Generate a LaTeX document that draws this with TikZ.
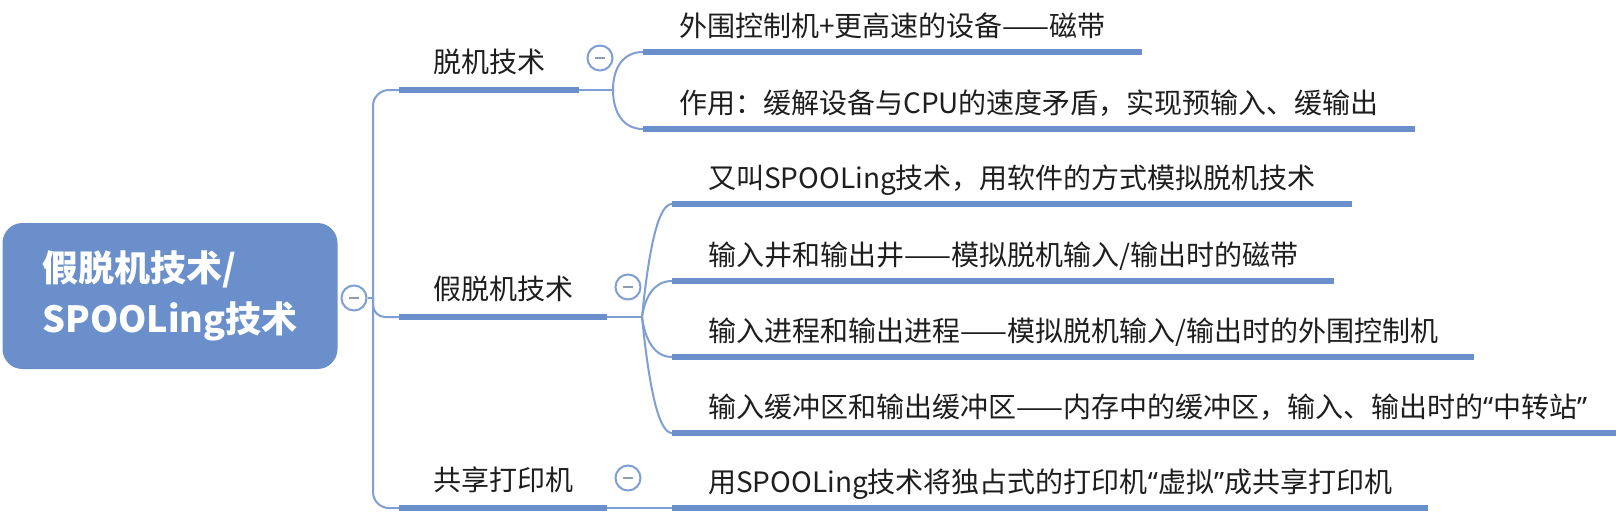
\documentclass[tikz,border=0pt]{standalone}
\usepackage{fontspec}
\setmainfont{Noto Sans CJK SC}
\newfontfamily\qfont{Noto Sans}
\newcommand{\oq}{{\qfont “}}
\newcommand{\cq}{{\qfont ”}}
\usetikzlibrary{calc}
\definecolor{mmblue}{HTML}{6A8FCB}
\definecolor{mmline}{HTML}{7F9FD4}
\definecolor{mmtext}{HTML}{1E1E1E}
\definecolor{mmminus}{HTML}{8E9CB5}
\begin{document}
\begin{tikzpicture}[x=1pt, y=-1pt,
  root/.style={rectangle, rounded corners=20pt, fill=mmblue, draw=none,
    minimum width=335pt, minimum height=146pt, text=white, align=left,
    font=\fontsize{36}{51}\selectfont\bfseries},
  l1/.style={anchor=south west, inner xsep=34pt, inner ysep=0pt, minimum height=49pt,
    text height=21pt, text depth=6pt, text=mmtext, font=\fontsize{28}{30}\selectfont},
  l2/.style={anchor=south west, inner xsep=36pt, inner ysep=0pt, minimum height=46pt,
    text height=21pt, text depth=6pt, text=mmtext, font=\fontsize{28}{30}\selectfont},
  uline/.style={line width=6pt, mmblue},
  conn/.style={line width=2pt, mmline},
  fold/.style={circle, draw=mmline, line width=2pt, fill=white, minimum size=25pt, inner sep=0pt,
    path picture={\draw[mmminus, line width=2pt]
      ([xshift=-5pt]path picture bounding box.center) -- ([xshift=5pt]path picture bounding box.center);}}
]
\useasboundingbox (0,0) rectangle (1616,520);
\fill[white] (0,0) rectangle (1616,520);

% root
\node[root] (r) at (170,296) {假脱机技术/\\SPOOLing技术};
\node[fold] (rf) at (354,298) {};
\coordinate (tr) at (373,298);

% level 1
\node[l1] (a) at (399,90) {脱机技术};
\node[l1] (b) at (399,317) {假脱机技术};
\node[l1] (c) at (399,508) {共享打印机};
\node[fold] (af) at (600,58) {};
\node[fold] (bf) at (628,287) {};
\node[fold] (cf) at (628,478) {};
\coordinate (as) at (613,90);
\coordinate (bs) at (642,317);

% level 2
\node[l2] (a1) at (643,52) {外围控制机+更高速的设备——磁带};
\node[l2] (a2) at (643,129) {作用：缓解设备与CPU的速度矛盾，实现预输入、缓输出};
\node[l2] (b1) at (672,204) {又叫SPOOLing技术，用软件的方式模拟脱机技术};
\node[l2] (b2) at (672,281) {输入井和输出井——模拟脱机输入/输出时的磁带};
\node[l2] (b3) at (672,357) {输入进程和输出进程——模拟脱机输入/输出时的外围控制机};
\node[l2] (b4) at (672,433) {输入缓冲区和输出缓冲区——内存中的缓冲区，输入、输出时的\oq 中转站\cq};
\node[l2] (c1) at (672,508) {用SPOOLing技术将独占式的打印机\oq 虚拟\cq 成共享打印机};

% underlines
\foreach \n in {a,b,c,a1,a2,b1,b2,b3,b4,c1}
  \draw[uline] (\n.south west) -- (\n.south east);

% connectors
\draw[conn] (rf.east) -- (tr);
\draw[conn, rounded corners=16pt] (tr) |- (a.south west);
\draw[conn, rounded corners=12pt] (tr) |- (b.south west);
\draw[conn, rounded corners=16pt] (tr) |- (c.south west);

\draw[conn] (a.south east) -- (as);
\draw[conn] (as) .. controls +(0,-22) and +(-20,0) .. (a1.south west);
\draw[conn] (as) .. controls +(0,22) and +(-20,0) .. (a2.south west);

\draw[conn] (b.south east) -- (bs);
\draw[conn] (bs) .. controls +(8,-80) and +(-12,0) .. (b1.south west);
\draw[conn] (bs) .. controls +(3,-20) and +(-18,0) .. (b2.south west);
\draw[conn] (bs) .. controls +(3,22) and +(-18,0) .. (b3.south west);
\draw[conn] (bs) .. controls +(8,80) and +(-12,0) .. (b4.south west);

\draw[conn] (c.south east) -- (c1.south west);
\end{tikzpicture}
\end{document}
